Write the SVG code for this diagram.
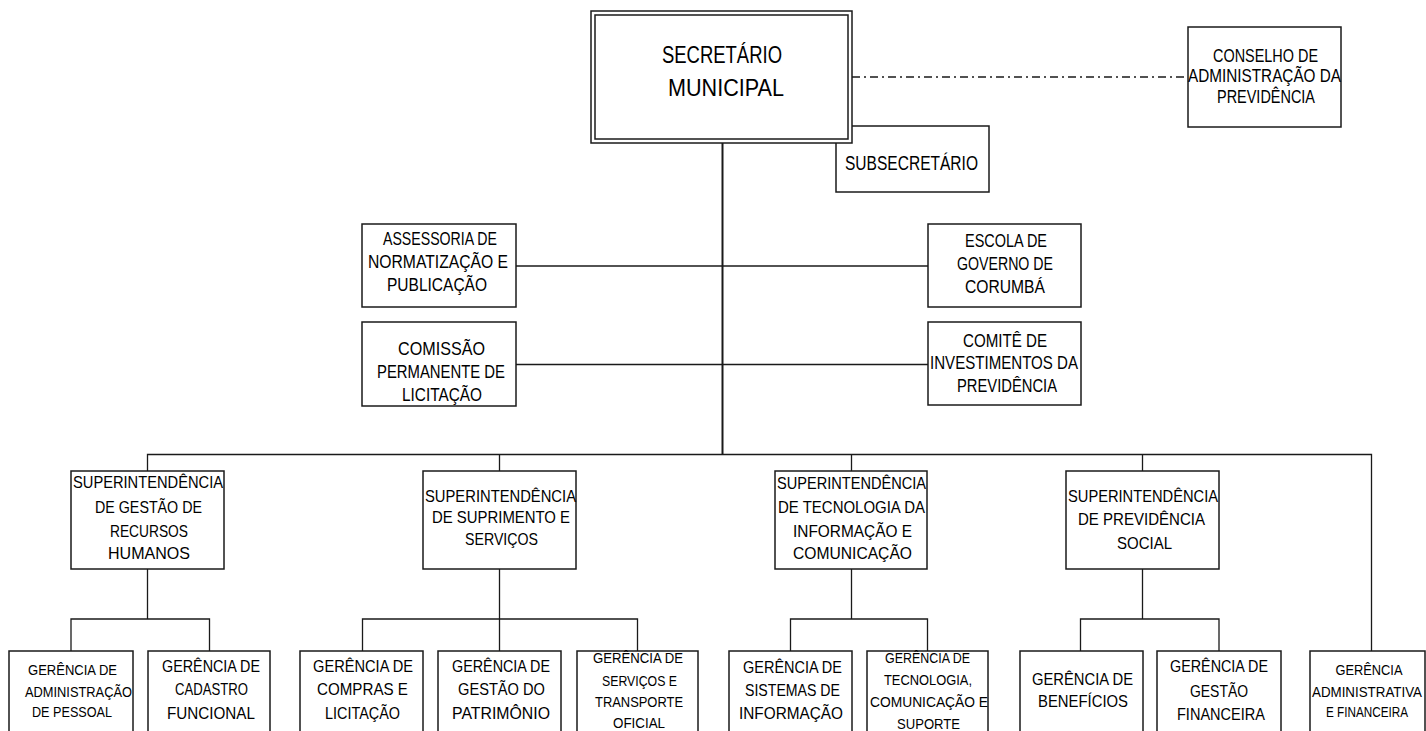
<svg xmlns="http://www.w3.org/2000/svg" width="1426" height="731" viewBox="0 0 1426 731">
<style>
.bx{fill:#fff;stroke:#1a1a1a;stroke-width:1.5}
.ln{fill:none;stroke:#1a1a1a;stroke-width:1.3}
.t{font-family:"Liberation Sans",Arial,sans-serif;fill:#000;text-anchor:middle}
.f23{font-size:23.5px}.f19{font-size:19.5px}.f18{font-size:18.5px}.f17{font-size:17.5px}.f16{font-size:17px}.fg{font-size:17px}.f15{font-size:15.5px}
</style>
<rect width="1426" height="731" fill="#fff"/>
<g id="connectors">
<line class="ln" x1="722.5" y1="143" x2="722.5" y2="454.5" style="stroke-width:2"/>
<line class="ln" x1="852" y1="77" x2="1188" y2="77" stroke-dasharray="8,4,2,4"/>
<line class="ln" x1="516" y1="266" x2="928" y2="266"/>
<line class="ln" x1="516" y1="364.5" x2="928" y2="364.5"/>
<polyline class="ln" points="147.5,471 147.5,454.5 1371.5,454.5 1371.5,651"/>
<line class="ln" x1="499.5" y1="454.5" x2="499.5" y2="471"/>
<line class="ln" x1="851.5" y1="454.5" x2="851.5" y2="471"/>
<line class="ln" x1="1142.5" y1="454.5" x2="1142.5" y2="471"/>
<line class="ln" x1="147.5" y1="569" x2="147.5" y2="619"/>
<polyline class="ln" points="71,651 71,619 209.5,619 209.5,651"/>
<line class="ln" x1="499.5" y1="569" x2="499.5" y2="651"/>
<polyline class="ln" points="362.5,651 362.5,619 637.5,619 637.5,651"/>
<line class="ln" x1="851.5" y1="569" x2="851.5" y2="619"/>
<polyline class="ln" points="790.5,651 790.5,619 927.5,619 927.5,651"/>
<line class="ln" x1="1142.5" y1="569" x2="1142.5" y2="619"/>
<polyline class="ln" points="1080.5,651 1080.5,619 1219,619 1219,651"/>
</g>
<g id="subsecretario">
<rect class="bx" x="836" y="126" width="153" height="66"/>
<text class="t f19" x="911.5" y="170" textLength="133" lengthAdjust="spacingAndGlyphs">SUBSECRETÁRIO</text>
</g>
<g id="secretario">
<rect class="bx" x="591" y="11" width="261" height="132"/>
<rect class="bx" x="595" y="15" width="253" height="124"/>
<text class="t f23" x="722" y="63" textLength="120" lengthAdjust="spacingAndGlyphs">SECRETÁRIO</text>
<text class="t f23" x="726" y="96" textLength="116" lengthAdjust="spacingAndGlyphs">MUNICIPAL</text>
</g>
<g id="conselho">
<rect class="bx" x="1188" y="27" width="153" height="100"/>
<text class="t f18" x="1265.5" y="62" textLength="105" lengthAdjust="spacingAndGlyphs">CONSELHO DE</text>
<text class="t f18" x="1264.5" y="82" textLength="153" lengthAdjust="spacingAndGlyphs">ADMINISTRAÇÃO DA</text>
<text class="t f18" x="1266" y="103" textLength="98" lengthAdjust="spacingAndGlyphs">PREVIDÊNCIA</text>
</g>
<g id="assessoria">
<rect class="bx" x="362" y="224" width="154" height="83"/>
<text class="t f17" x="440" y="245" textLength="114" lengthAdjust="spacingAndGlyphs">ASSESSORIA DE</text>
<text class="t f17" x="438" y="268" textLength="140" lengthAdjust="spacingAndGlyphs">NORMATIZAÇÃO E</text>
<text class="t f17" x="437" y="291" textLength="100" lengthAdjust="spacingAndGlyphs">PUBLICAÇÃO</text>
</g>
<g id="comissao">
<rect class="bx" x="362" y="322" width="154" height="84"/>
<text class="t f17" x="441.5" y="355" textLength="87" lengthAdjust="spacingAndGlyphs">COMISSÃO</text>
<text class="t f17" x="441" y="378" textLength="128" lengthAdjust="spacingAndGlyphs">PERMANENTE DE</text>
<text class="t f17" x="442" y="401" textLength="80" lengthAdjust="spacingAndGlyphs">LICITAÇÃO</text>
</g>
<g id="escola">
<rect class="bx" x="928" y="224" width="153" height="83"/>
<text class="t f17" x="1006" y="247" textLength="82" lengthAdjust="spacingAndGlyphs">ESCOLA DE</text>
<text class="t f17" x="1005" y="270" textLength="96" lengthAdjust="spacingAndGlyphs">GOVERNO DE</text>
<text class="t f17" x="1005" y="293" textLength="80" lengthAdjust="spacingAndGlyphs">CORUMBÁ</text>
</g>
<g id="comite">
<rect class="bx" x="928" y="322" width="153" height="83"/>
<text class="t f17" x="1005" y="347" textLength="84" lengthAdjust="spacingAndGlyphs">COMITÊ DE</text>
<text class="t f17" x="1004" y="369" textLength="148" lengthAdjust="spacingAndGlyphs">INVESTIMENTOS DA</text>
<text class="t f17" x="1007" y="392" textLength="100" lengthAdjust="spacingAndGlyphs">PREVIDÊNCIA</text>
</g>
<g id="sup-rh">
<rect class="bx" x="71" y="471" width="153" height="98"/>
<text class="t f16" x="148" y="488" textLength="150" lengthAdjust="spacingAndGlyphs">SUPERINTENDÊNCIA</text>
<text class="t f16" x="148.5" y="513" textLength="107" lengthAdjust="spacingAndGlyphs">DE GESTÃO DE</text>
<text class="t f16" x="149" y="537" textLength="78" lengthAdjust="spacingAndGlyphs">RECURSOS</text>
<text class="t f16" x="149" y="559" textLength="82" lengthAdjust="spacingAndGlyphs">HUMANOS</text>
</g>
<g id="sup-suprimento">
<rect class="bx" x="423" y="471" width="153" height="98"/>
<text class="t f16" x="500.5" y="502" textLength="151" lengthAdjust="spacingAndGlyphs">SUPERINTENDÊNCIA</text>
<text class="t f16" x="501" y="523" textLength="138" lengthAdjust="spacingAndGlyphs">DE SUPRIMENTO E</text>
<text class="t f16" x="501.5" y="545" textLength="73" lengthAdjust="spacingAndGlyphs">SERVIÇOS</text>
</g>
<g id="sup-tic">
<rect class="bx" x="775" y="471" width="152" height="98"/>
<text class="t f16" x="851.5" y="489" textLength="149" lengthAdjust="spacingAndGlyphs">SUPERINTENDÊNCIA</text>
<text class="t f16" x="851.5" y="513" textLength="147" lengthAdjust="spacingAndGlyphs">DE TECNOLOGIA DA</text>
<text class="t f16" x="852.5" y="537" textLength="119" lengthAdjust="spacingAndGlyphs">INFORMAÇÃO E</text>
<text class="t f16" x="852.5" y="559" textLength="119" lengthAdjust="spacingAndGlyphs">COMUNICAÇÃO</text>
</g>
<g id="sup-previdencia">
<rect class="bx" x="1066" y="471" width="153" height="98"/>
<text class="t f16" x="1143" y="502" textLength="150" lengthAdjust="spacingAndGlyphs">SUPERINTENDÊNCIA</text>
<text class="t f16" x="1141.5" y="525" textLength="127" lengthAdjust="spacingAndGlyphs">DE PREVIDÊNCIA</text>
<text class="t f16" x="1144.5" y="549" textLength="55" lengthAdjust="spacingAndGlyphs">SOCIAL</text>
</g>
<g id="ger-pessoal">
<rect class="bx" x="9" y="651" width="124" height="95"/>
<text class="t f15" x="72.5" y="675" textLength="89" lengthAdjust="spacingAndGlyphs">GERÊNCIA DE</text>
<text class="t f15" x="78.5" y="697" textLength="107" lengthAdjust="spacingAndGlyphs">ADMINISTRAÇÃO</text>
<text class="t f15" x="72" y="717" textLength="80" lengthAdjust="spacingAndGlyphs">DE PESSOAL</text>
</g>
<g id="ger-cadastro">
<rect class="bx" x="148" y="651" width="122" height="95"/>
<text class="t fg" x="211" y="672" textLength="98" lengthAdjust="spacingAndGlyphs">GERÊNCIA DE</text>
<text class="t fg" x="211.5" y="695" textLength="73" lengthAdjust="spacingAndGlyphs">CADASTRO</text>
<text class="t fg" x="211" y="719" textLength="88" lengthAdjust="spacingAndGlyphs">FUNCIONAL</text>
</g>
<g id="ger-compras">
<rect class="bx" x="300" y="651" width="123" height="95"/>
<text class="t fg" x="363" y="672" textLength="100" lengthAdjust="spacingAndGlyphs">GERÊNCIA DE</text>
<text class="t fg" x="362.5" y="695" textLength="91" lengthAdjust="spacingAndGlyphs">COMPRAS E</text>
<text class="t fg" x="362.5" y="719" textLength="75" lengthAdjust="spacingAndGlyphs">LICITAÇÃO</text>
</g>
<g id="ger-patrimonio">
<rect class="bx" x="438" y="651" width="123" height="95"/>
<text class="t fg" x="501" y="672" textLength="98" lengthAdjust="spacingAndGlyphs">GERÊNCIA DE</text>
<text class="t fg" x="501.5" y="695" textLength="87" lengthAdjust="spacingAndGlyphs">GESTÃO DO</text>
<text class="t fg" x="501" y="719" textLength="98" lengthAdjust="spacingAndGlyphs">PATRIMÔNIO</text>
</g>
<g id="ger-servicos">
<rect class="bx" x="577" y="651" width="121" height="95"/>
<text class="t f15" x="638" y="663" textLength="90" lengthAdjust="spacingAndGlyphs">GERÊNCIA DE</text>
<text class="t f15" x="639.5" y="686" textLength="75" lengthAdjust="spacingAndGlyphs">SERVIÇOS E</text>
<text class="t f15" x="639" y="707" textLength="88" lengthAdjust="spacingAndGlyphs">TRANSPORTE</text>
<text class="t f15" x="639" y="728" textLength="52" lengthAdjust="spacingAndGlyphs">OFICIAL</text>
</g>
<g id="ger-sistemas">
<rect class="bx" x="729" y="651" width="123" height="95"/>
<text class="t fg" x="792.5" y="673" textLength="99" lengthAdjust="spacingAndGlyphs">GERÊNCIA DE</text>
<text class="t fg" x="792.5" y="696" textLength="95" lengthAdjust="spacingAndGlyphs">SISTEMAS DE</text>
<text class="t fg" x="791" y="719" textLength="104" lengthAdjust="spacingAndGlyphs">INFORMAÇÃO</text>
</g>
<g id="ger-tecnologia">
<rect class="bx" x="867" y="651" width="121" height="95"/>
<text class="t f15" x="927.5" y="663" textLength="85" lengthAdjust="spacingAndGlyphs">GERÊNCIA DE</text>
<text class="t f15" x="928" y="685" textLength="88" lengthAdjust="spacingAndGlyphs">TECNOLOGIA,</text>
<text class="t f15" x="929" y="707" textLength="118" lengthAdjust="spacingAndGlyphs">COMUNICAÇÃO E</text>
<text class="t f15" x="928.5" y="729" textLength="63" lengthAdjust="spacingAndGlyphs">SUPORTE</text>
</g>
<g id="ger-beneficios">
<rect class="bx" x="1020" y="651" width="123" height="95"/>
<text class="t fg" x="1082.5" y="685" textLength="101" lengthAdjust="spacingAndGlyphs">GERÊNCIA DE</text>
<text class="t fg" x="1083" y="707" textLength="90" lengthAdjust="spacingAndGlyphs">BENEFÍCIOS</text>
</g>
<g id="ger-financeira">
<rect class="bx" x="1157" y="651" width="124" height="95"/>
<text class="t fg" x="1219" y="672" textLength="98" lengthAdjust="spacingAndGlyphs">GERÊNCIA DE</text>
<text class="t fg" x="1219" y="697" textLength="58" lengthAdjust="spacingAndGlyphs">GESTÃO</text>
<text class="t fg" x="1221" y="720" textLength="88" lengthAdjust="spacingAndGlyphs">FINANCEIRA</text>
</g>
<g id="ger-adm-financeira">
<rect class="bx" x="1310" y="651" width="115" height="95"/>
<text class="t f15" x="1369" y="675" textLength="67" lengthAdjust="spacingAndGlyphs">GERÊNCIA</text>
<text class="t f15" x="1367" y="697" textLength="110" lengthAdjust="spacingAndGlyphs">ADMINISTRATIVA</text>
<text class="t f15" x="1367" y="717" textLength="82" lengthAdjust="spacingAndGlyphs">E FINANCEIRA</text>
</g>
</svg>
